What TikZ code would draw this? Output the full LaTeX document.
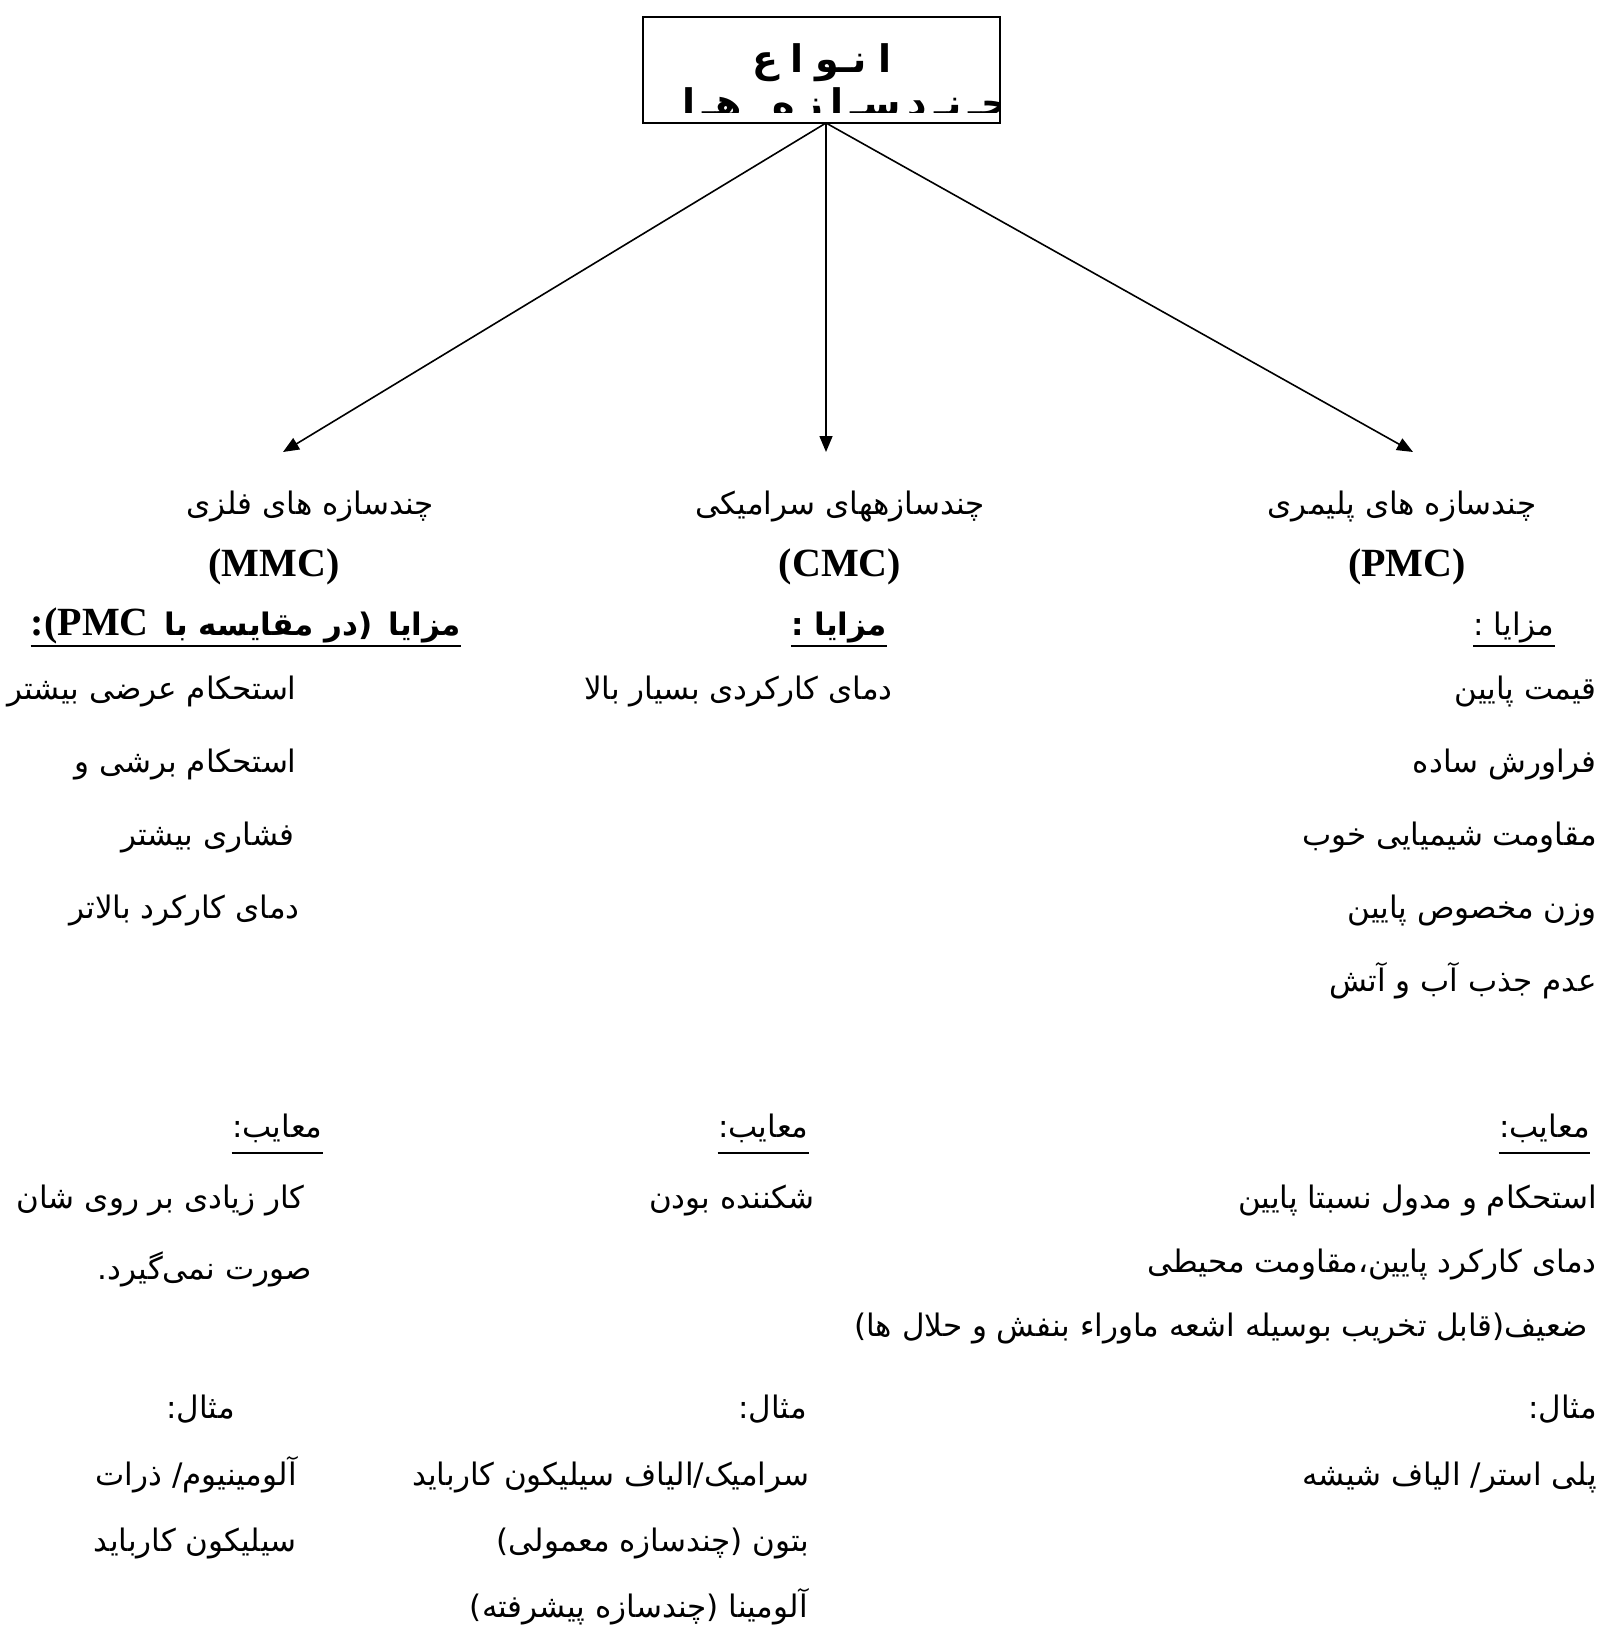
\documentclass[tikz,border=0pt]{standalone}
\usepackage{fontspec}
\setmainfont{Liberation Serif}
\newfontfamily\fa[Script=Arabic]{DejaVu Sans}
\usetikzlibrary{arrows.meta}
\TeXXeTstate=1
\tikzset{
  ar/.style={font=\fa\fontsize{15.5}{19}\selectfont, inner sep=0pt, anchor=base east},
  arc/.style={ar, anchor=base},
  arb/.style={font=\fa\bfseries\fontsize{15.5}{19}\selectfont, inner sep=0pt, anchor=base},
  lat/.style={font=\bfseries\fontsize{20}{24}\selectfont, inner sep=0pt, anchor=base},
  conn/.style={-{Triangle[length=8pt,width=6.5pt]}, line width=0.8pt},
  ulne/.style={line width=1.1pt},
  frame/.style={draw, line width=1pt, minimum width=178.5pt, minimum height=53pt, inner sep=0pt},
  toptxt/.style={font=\fa\bfseries\fontsize{19}{22}\selectfont, inner sep=0pt, anchor=base},
}
\begin{document}
\begin{tikzpicture}[x=0.5pt,y=-0.5pt]
\useasboundingbox[fill=white] (0,0) rectangle (1602,1642);
% title box
\node[frame] (top) at (821.5,70) {};
\node[toptxt] (t1) at (822,73) {\beginR ا\hspace{6pt}نـو\hspace{6pt}ا\hspace{6pt}ع\endR};
\begin{scope}
  \clip (643,17) rectangle (1000,113);
  \node[toptxt] (t2) at (846,117) {\beginR چـ\hspace{3.5pt}نـ\hspace{3.5pt}د\hspace{3.5pt}سـ\hspace{3.5pt}ا\hspace{3.5pt}ز\hspace{3.5pt}ه\hspace{15pt}هـ\hspace{3.5pt}ا\endR};
\end{scope}
% connectors
\coordinate (src) at (826,123);
\coordinate (tipL) at (283,452);
\coordinate (tipC) at (826,452);
\coordinate (tipR) at (1413,452);
\draw[conn] (src) -- (tipL);
\draw[conn] (src) -- (tipC);
\draw[conn] (src) -- (tipR);
% underline levels
\coordinate (uA) at (0,646);
\coordinate (uD) at (0,1153);
% ---------- MMC column ----------
\node[arc] (mH) at (310,514) {\beginR چندسازه های فلزی\endR};
\node[lat] (mL) at (274,576) {(MMC)};
\node[inner sep=0pt, anchor=base] (mA) at (246,635) {{\bfseries\fontsize{20}{24}\selectfont :(PMC}\hspace{8pt}{\fa\bfseries\fontsize{15.5}{19}\selectfont\beginR در مقایسه با\endR(\hspace{8pt}\beginR مزایا\endR}};
\draw[ulne] (mA.west |- uA) -- (mA.east |- uA);
\node[ar] (m1) at (297,699) {\beginR استحکام عرضی بیشتر\endR};
\node[ar] (m2) at (297,772) {\beginR استحکام برشی و\endR};
\node[ar] (m3) at (295,845) {\beginR فشاری بیشتر\endR};
\node[ar] (m4) at (300,918) {\beginR دمای کارکرد بالاتر\endR};
\node[ar] (mD) at (323,1137) {\beginR معایب:\endR};
\draw[ulne] (mD.west |- uD) -- (mD.east |- uD);
\node[ar] (m5) at (305,1208) {\beginR کار زیادی بر روی شان\endR};
\node[ar] (m6) at (312,1279) {\beginR صورت نمی‌گیرد.\endR};
\node[ar] (mE) at (235,1418) {\beginR مثال:\endR};
\node[ar] (m7) at (297,1485) {\beginR آلومینیوم/ ذرات\endR};
\node[ar] (m8) at (297,1551) {\beginR سیلیکون کارباید\endR};
% ---------- CMC column ----------
\node[arc] (cH) at (840,514) {\beginR چندسازههای سرامیکی\endR};
\node[lat] (cL) at (840,576) {(CMC)};
\node[arb] (cA) at (839,635) {\beginR مزایا :\endR};
\draw[ulne] (cA.west |- uA) -- (cA.east |- uA);
\node[ar] (c1) at (893,699) {\beginR دمای کارکردی بسیار بالا\endR};
\node[ar] (cD) at (809,1137) {\beginR معایب:\endR};
\draw[ulne] (cD.west |- uD) -- (cD.east |- uD);
\node[ar] (c2) at (815,1208) {\beginR شکننده بودن\endR};
\node[ar] (cE) at (807,1418) {\beginR مثال:\endR};
\node[ar] (c3) at (810,1485) {\beginR سرامیک/الیاف سیلیکون کارباید\endR};
\node[ar] (c4) at (810,1551) {\beginR بتون (چندسازه معمولی)\endR};
\node[ar] (c5) at (808,1617) {\beginR آلومینا (چندسازه پیشرفته)\endR};
% ---------- PMC column ----------
\node[arc] (pH) at (1402,514) {\beginR چندسازه های پلیمری\endR};
\node[lat] (pL) at (1407,576) {(PMC)};
\node[arc] (pA) at (1514,635) {\beginR مزایا :\endR};
\draw[ulne] (pA.west |- uA) -- (pA.east |- uA);
\node[ar] (p1) at (1597,699) {\beginR قیمت پایین\endR};
\node[ar] (p2) at (1597,772) {\beginR فراورش ساده\endR};
\node[ar] (p3) at (1597,845) {\beginR مقاومت شیمیایی خوب\endR};
\node[ar] (p4) at (1597,918) {\beginR وزن مخصوص پایین\endR};
\node[ar] (p5) at (1597,991) {\beginR عدم جذب آب و آتش\endR};
\node[ar] (pD) at (1590,1137) {\beginR معایب:\endR};
\draw[ulne] (pD.west |- uD) -- (pD.east |- uD);
\node[ar] (p6) at (1597,1208) {\beginR استحکام و مدول نسبتا پایین\endR};
\node[ar] (p7) at (1597,1272) {\beginR دمای کارکرد پایین،مقاومت محیطی\endR};
\node[ar] (p8) at (1588,1336) {\beginR ضعیف(قابل تخریب بوسیله اشعه ماوراء بنفش و حلال ها)\endR};
\node[ar] (pE) at (1597,1418) {\beginR مثال:\endR};
\node[ar] (p9) at (1597,1485) {\beginR پلی استر/ الیاف شیشه\endR};
\end{tikzpicture}
\end{document}
